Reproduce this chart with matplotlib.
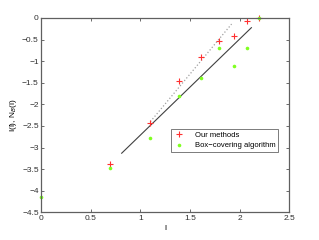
"""Recreate the fractal-dimension comparison plot (I(l), N_B(l) vs l)."""

import matplotlib
matplotlib.use("Agg")
import matplotlib.pyplot as plt

# Data
l_ours = [0.693, 1.099, 1.386, 1.609, 1.792, 1.946, 2.079, 2.197]
i_ours = [-3.39, -2.44, -1.45, -0.895, -0.54, -0.42, -0.08, 0.0]

l_box = [0.0, 0.693, 1.099, 1.386, 1.609, 1.792, 1.946, 2.079, 2.197]
n_box = [-4.14, -3.48, -2.78, -1.80, -1.38, -0.69, -1.10, -0.69, 0.0]

# fitted lines (endpoints)
fit_ours_x = [1.10, 1.92]
fit_ours_y = [-2.40, -0.14]
fit_box_x = [0.81, 2.12]
fit_box_y = [-3.13, -0.224]

x_ticks = [0, 0.5, 1, 1.5, 2, 2.5]
y_ticks = [-4.5, -4, -3.5, -3, -2.5, -2, -1.5, -1, -0.5, 0]

plt.rcParams['font.family'] = ['Liberation Sans', 'DejaVu Sans']

fig = plt.figure(figsize=(3.19, 2.40), dpi=100)
ax = fig.add_axes([0.130, 0.115, 0.776, 0.810])

ax.plot(fit_ours_x, fit_ours_y, linestyle=':', color='#a0a0a0', linewidth=0.9)
ax.plot(fit_box_x, fit_box_y, linestyle='-', color='#404040', linewidth=0.8)
ax.plot(l_ours, i_ours, linestyle='none', marker='+', color='#ff3030',
        markersize=5, markeredgewidth=0.8, label='Our methods', clip_on=False)
ax.plot(l_box, n_box, linestyle='none', marker='o', color='#80ff20',
        markersize=2.6, markeredgewidth=0, label='Box\u2212covering algorithm',
        clip_on=False)

ax.set_xlim(0, 2.5)
ax.set_ylim(-4.5, 0)
ax.set_xticks(x_ticks)
ax.set_xticklabels(['0', '0.5', '1', '1.5', '2', '2.5'])
ax.set_yticks(y_ticks)
ax.set_yticklabels(['\u22124.5', '\u22124', '\u22123.5', '\u22123', '\u22122.5',
                    '\u22122', '\u22121.5', '\u22121', '\u22120.5', '0'])
ax.tick_params(direction='in', top=True, right=True, length=2.5, width=0.5,
               labelsize=6, pad=2, colors='#303030')
for spine in ax.spines.values():
    spine.set_color('#606060')
    spine.set_linewidth(0.9)

ax.set_xlabel('l', fontsize=6, labelpad=2)
ax.set_ylabel('I(l), N$_B$(l)', fontsize=6, labelpad=2)

leg = ax.legend(loc='upper left', bbox_to_anchor=(0.523, 0.43), fontsize=5.5,
                frameon=True, fancybox=False, edgecolor='#404040',
                handlelength=1.5, borderpad=0.35, labelspacing=0.4,
                handletextpad=1.3, borderaxespad=0)
leg.get_frame().set_linewidth(0.6)

fig.savefig('out.png', dpi=100)
